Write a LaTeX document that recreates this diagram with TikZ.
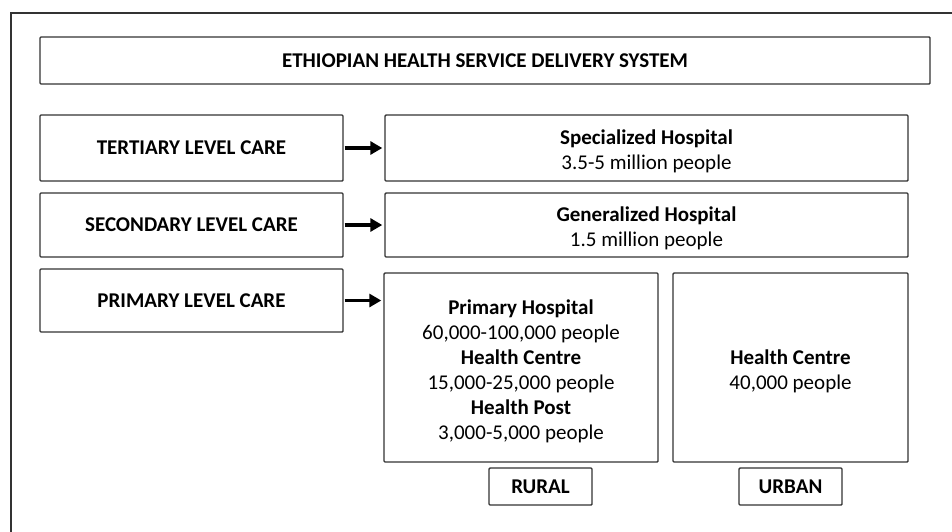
\documentclass[tikz,border=0pt]{standalone}
\usepackage{fontspec}
\setmainfont{Carlito}
\usetikzlibrary{arrows.meta}

\begin{document}
\begin{tikzpicture}[x=1pt,y=-1pt
	,>={Triangle[length=12pt,width=13pt]}
	,box/.style={draw=black!80,line width=1.4pt,rounded corners=1pt
	  ,inner sep=0pt,align=center,font=\fontsize{21}{25}\selectfont}
	,level/.style={box,minimum width=303pt,font=\bfseries\fontsize{21}{25}\selectfont}
	,care/.style={box,minimum width=523pt}
	,zone/.style={box,minimum height=37pt,minimum width=103pt
	  ,font=\bfseries\fontsize{21}{25}\selectfont}
	,link/.style={->,line width=3.4pt,shorten <=1pt,shorten >=2pt}]

  \path[use as bounding box,clip] (0,0) rectangle (952,531);
  % outer frame, cut by the page on the right and below
  \draw[draw=black!80,line width=2pt] (970,13) -- (11,13) -- (11,550);

  % title
  \node[box,minimum width=890pt,minimum height=47pt
  ,font=\bfseries\fontsize{21}{25}\selectfont] (title) at (485,60.5)
    {ETHIOPIAN HEALTH SERVICE DELIVERY SYSTEM};

  % 3 levels
  \node[level,minimum height=66pt] (tert) at (191.5,148) {TERTIARY LEVEL CARE};
  \node[level,minimum height=64pt] (sec)  at (191.5,225) {SECONDARY LEVEL CARE};
  \node[level,minimum height=63pt] (prim) at (191.5,300.5) {PRIMARY LEVEL CARE};

  % facilities
  \node[care,minimum height=66pt] (spec) at (646.5,148)
    {\rule{0pt}{22pt}\textbf{Specialized Hospital}\\3.5-5 million people};
  \node[care,minimum height=64pt] (gen)  at (646.5,225)
    {\rule{0pt}{22pt}\textbf{Generalized Hospital}\\1.5 million people};
  \node[box,minimum width=274pt,minimum height=189pt] (rural) at (521,367.5)
    {\rule{0pt}{22pt}\textbf{Primary Hospital}\\60,000-100,000 people\\
     \textbf{Health Centre}\\15,000-25,000 people\\
     \textbf{Health Post}\\3,000-5,000 people};
  \node[box,minimum width=235pt,minimum height=189pt] (urban) at (790.5,367.5)
    {\rule{0pt}{22pt}\textbf{Health Centre}\\40,000 people};

  % rural / urban
  \node[zone] (rurallbl) at (540.5,486.5) {RURAL};
  \node[zone] (urbanlbl) at (790.5,486.5) {URBAN};

  % level -> facility
  \path [link] (tert) edge (spec);
  \path [link] (sec)  edge (gen);
  \path [link] (prim.east) edge (prim.east -| rural.west);
\end{tikzpicture}
\end{document}
